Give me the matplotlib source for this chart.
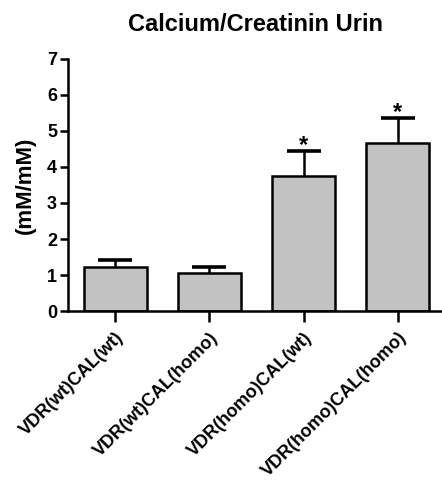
import matplotlib
matplotlib.use('Agg')
import matplotlib.pyplot as plt

groups = ['VDR(wt)CAL(wt)', 'VDR(wt)CAL(homo)', 'VDR(homo)CAL(wt)', 'VDR(homo)CAL(homo)']
means = [1.22, 1.05, 3.75, 4.67]
sem = [0.20, 0.17, 0.69, 0.69]
stars = ['', '', '*', '*']

plt.rcParams['font.family'] = ['Liberation Sans', 'DejaVu Sans']
plt.rcParams['font.weight'] = 'bold'

fig = plt.figure(figsize=(4.42, 4.83), dpi=100)
ax = fig.add_axes([0.154, 0.356, 0.846, 0.522])

x = list(range(len(groups)))
tops = [m + e for m, e in zip(means, sem)]
ax.bar(x, means, width=0.67, color='#c2c2c2', edgecolor='black', linewidth=1.8, zorder=2)
# upper-only error bars: stem + cap
ax.vlines(x, means, tops, color='black', linewidth=1.8, zorder=1)
ax.plot(x, tops, linestyle='none', marker='_', markersize=24, markeredgewidth=2.6,
        color='black', zorder=3)
for i, (t, s) in enumerate(zip(tops, stars)):
    if s:
        ax.text(i, t - 0.03, s, ha='center', va='baseline', fontsize=17, fontweight='bold')

ax.set_xlim(-0.5, 3.47)
ax.set_ylim(0, 7)
ax.set_yticks(range(8))
ax.set_xticks(x)
ax.set_xticklabels(groups, rotation=45, ha='right', rotation_mode='anchor', fontsize=13,
                   fontweight='bold')
for lab in ax.get_yticklabels():
    lab.set_fontsize(13)
    lab.set_fontweight('bold')
ax.tick_params(axis='y', length=6, width=1.8, pad=2)
ax.tick_params(axis='x', length=8, width=1.8, pad=5)
for side in ['top', 'right']:
    ax.spines[side].set_visible(False)
for side in ['left', 'bottom']:
    ax.spines[side].set_linewidth(1.8)

ax.set_ylabel('(mM/mM)', fontsize=16, fontweight='bold', labelpad=8)
ax.set_title('Calcium/Creatinin Urin', fontsize=17, fontweight='bold', pad=20)

fig.savefig('out.png', dpi=100)
